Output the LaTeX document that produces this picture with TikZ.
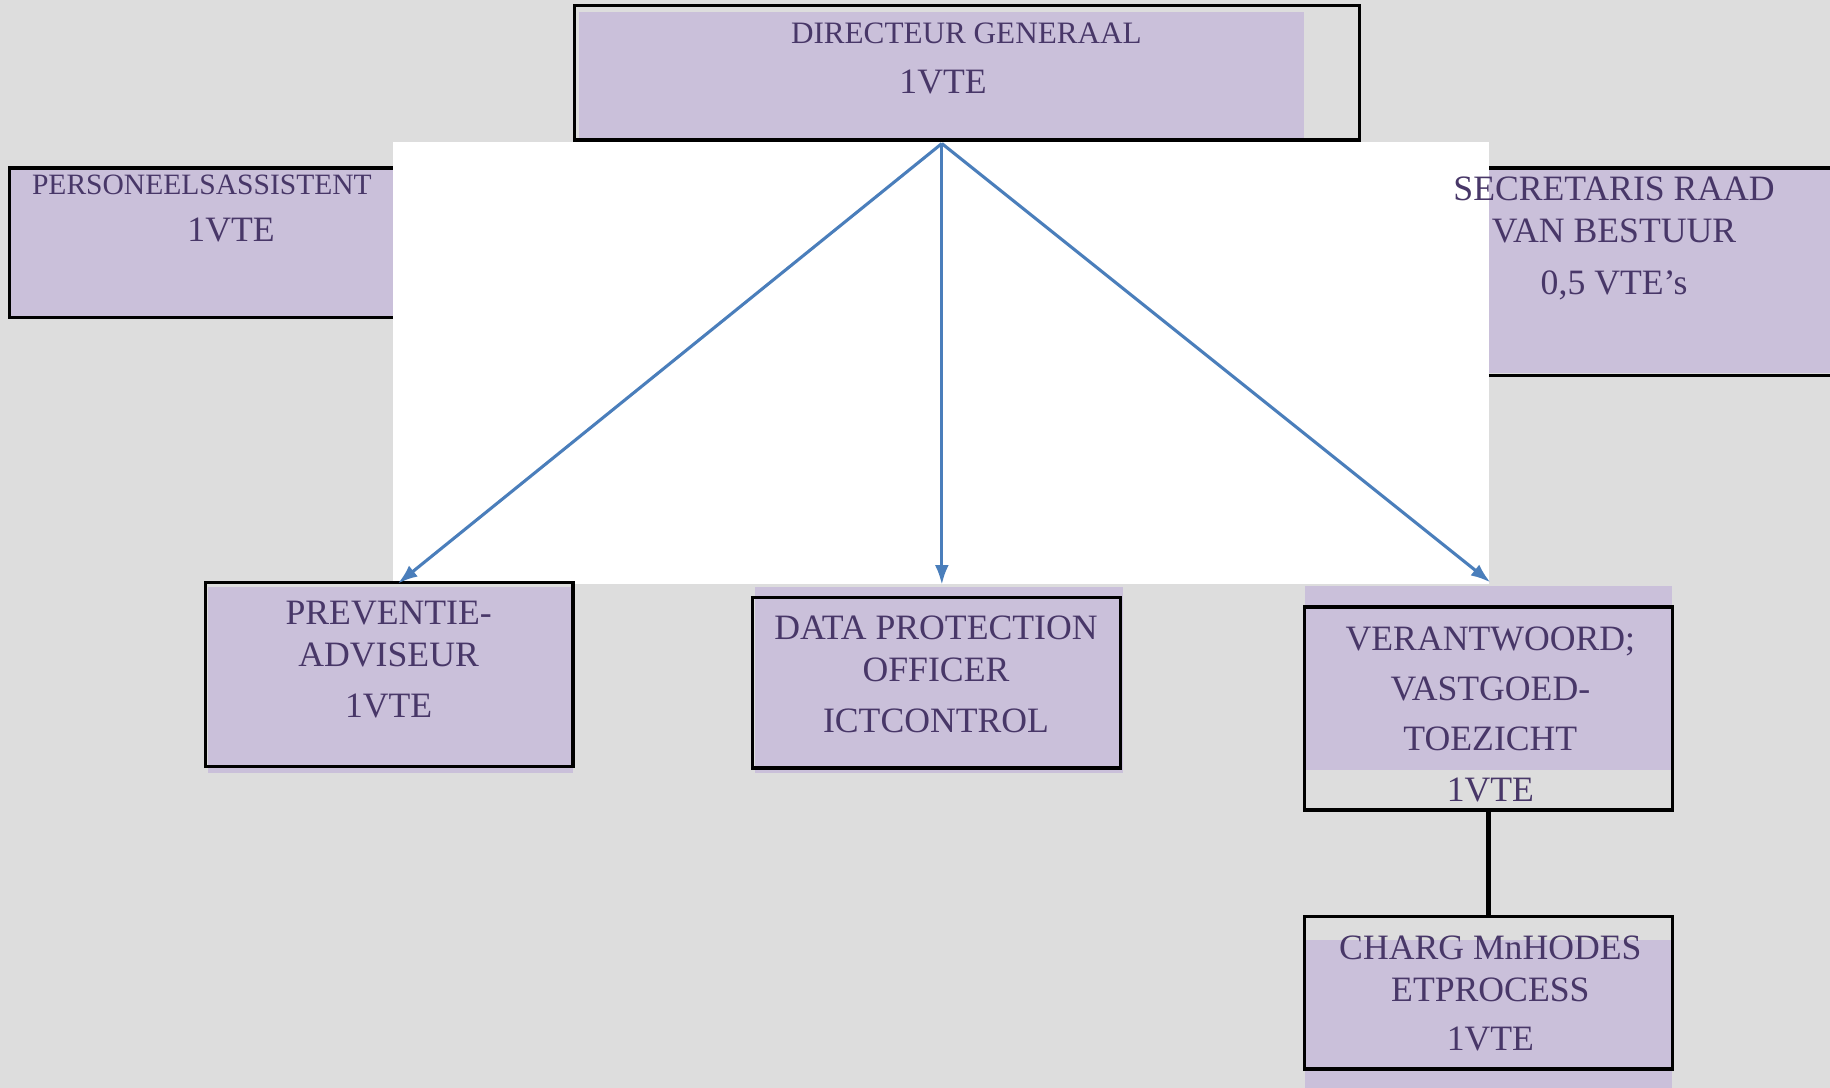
\documentclass[tikz,border=0pt]{standalone}
\usepackage{fontspec}
\setmainfont{Liberation Serif}
\usetikzlibrary{arrows.meta}

\definecolor{bggrey}{HTML}{DDDDDD}
\definecolor{boxfill}{HTML}{CAC0DA}
\definecolor{txt}{HTML}{483768}
\definecolor{arrowblue}{HTML}{4A7EBB}

\begin{document}
\begin{tikzpicture}[x=0.1mm, y=-0.1mm,
    box/.style={draw=black, line width=0.8pt, inner sep=0pt, outer sep=0pt},
    lbl/.style={text=txt, anchor=base, inner sep=0pt, font=\fontsize{8.7}{10}\selectfont},
    lblsm/.style={lbl, font=\fontsize{7.6}{9}\selectfont},
    arrow/.style={draw=arrowblue, line width=0.75pt, -{Latex[length=4.8pt,width=3.4pt]}}]
    \useasboundingbox (0,0) rectangle (1568,932);

    % Background
    \fill[bggrey] (0,0) rectangle (1568,932);

    % Side boxes (partly covered by the white sheet)
    \fill[boxfill] (8,146) rectangle (360,272);
    \fill[boxfill] (1250,146) rectangle (1600,320);
    \node[box, minimum width=35.2mm, minimum height=12.8mm] (pers) at (184,208) {};
    \node[box, minimum width=35mm, minimum height=17.8mm] (secr) at (1425,233) {};

    % White sheet
    \fill[white] (337,122) rectangle (1276,500);

    % Fills of the other boxes
    \fill[boxfill] (496,10) rectangle (1117,120);
    \fill[boxfill] (178,503) rectangle (491,662);
    \fill[boxfill] (647,503) rectangle (962,662);
    \fill[boxfill] (1118,502) rectangle (1433,660);
    \fill[boxfill] (1118,805) rectangle (1433,932);

    % Draw the boxes
    \node[box, minimum width=67.3mm, minimum height=11.5mm] (dirg) at (828.5,62.5) {};
    \node[box, minimum width=31.5mm, minimum height=15.8mm] (prev) at (333.5,578) {};
    \node[box, minimum width=31.5mm, minimum height=14.6mm] (data) at (802.5,585) {};
    \node[box, minimum width=31.5mm, minimum height=17.4mm] (ver) at (1275.5,607) {};
    \node[box, minimum width=31.5mm, minimum height=13.1mm] (charg) at (1275.5,850.5) {};

    % Arrow ends
    \coordinate (hub) at (807,123);
    \coordinate (prevTip) at (341,500);
    \coordinate (dataTip) at (807,501);
    \coordinate (verTip) at (1277,499);

    % Draw the arrows
    \draw[arrow] (hub) -- (prevTip);
    \draw[arrow] (hub) -- (dataTip);
    \draw[arrow] (hub) -- (verTip);
    \draw[line width=1.2pt] (ver.south) -- (charg.north);

    % Draw the labels
    \node[lblsm] (dirgT1) at (828,37) {DIRECTEUR GENERAAL};
    \node[lbl] (dirgT2) at (808,80) {1VTE};
    \node[lblsm, font=\fontsize{7.2}{9}\selectfont] (persT1) at (173,167) {PERSONEELSASSISTENT};
    \node[lbl] (persT2) at (198,207) {1VTE};
    \node[lbl] (secrT1) at (1383,172) {SECRETARIS RAAD};
    \node[lbl] (secrT2) at (1383,208) {VAN BESTUUR};
    \node[lbl] (secrT3) at (1383,252) {0,5 VTE’s};
    \node[lbl] (prevT1) at (333,535) {PREVENTIE-};
    \node[lbl] (prevT2) at (333,571) {ADVISEUR};
    \node[lbl] (prevT3) at (333,615) {1VTE};
    \node[lbl] (dataT1) at (802,548) {DATA PROTECTION};
    \node[lbl] (dataT2) at (802,584) {OFFICER};
    \node[lbl] (dataT3) at (802,628) {ICTCONTROL};
    \node[lbl] (verT1) at (1277,557) {VERANTWOORD;};
    \node[lbl] (verT2) at (1277,600) {VASTGOED-};
    \node[lbl] (verT3) at (1277,643) {TOEZICHT};
    \node[lbl] (verT4) at (1277,687) {1VTE};
    \node[lbl] (chargT1) at (1277,822) {CHARG MnHODES};
    \node[lbl] (chargT2) at (1277,858) {ETPROCESS};
    \node[lbl] (chargT3) at (1277,900) {1VTE};
\end{tikzpicture}
\end{document}
